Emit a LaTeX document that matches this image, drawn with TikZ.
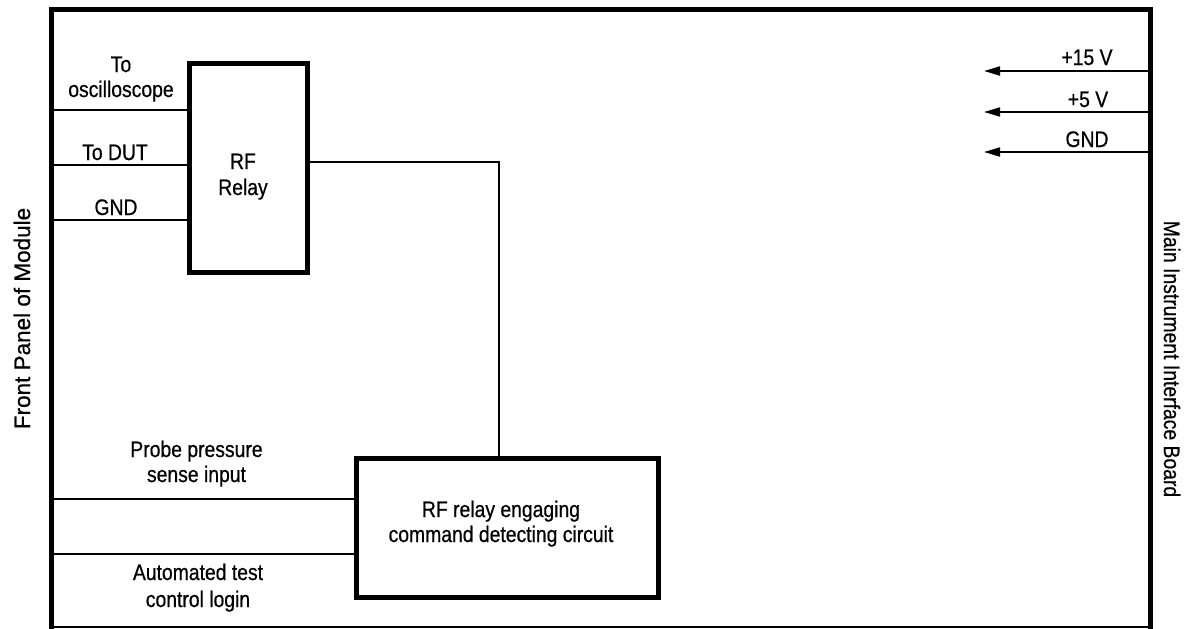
\documentclass[tikz,border=0pt]{standalone}
\usepackage{fontspec}
\setmainfont{Liberation Sans}[FakeStretch=0.86,FakeBold=0.6]
\newfontfamily\widesans{Liberation Sans}[FakeBold=0.6]
\usetikzlibrary{arrows.meta}
\begin{document}
\begin{tikzpicture}[x=1pt,y=-1pt,
  thickline/.style={line width=5pt},
  thinline/.style={line width=2pt},
  block/.style={draw,line width=5pt,inner sep=0pt,align=center},
  lbl/.style={inner sep=0pt,anchor=base,align=center,font=\fontsize{22.5}{26}\selectfont},
  pwr/.style={thinline,-{Triangle[length=16pt,width=9pt]}}]
\useasboundingbox (0,0) rectangle (1186,629);
% frame
\draw[thickline] (51,629) -- (51,9.5) -- (1150,9.5) -- (1150,629);
\draw[thinline] (51,627) -- (1148,627);
% blocks
\node[block,minimum width=118pt,minimum height=209pt] (relay) at (248,167.5) {};
\node[lbl] (relaytxt) at (243,195) {\fontsize{22.5}{28}\selectfont RF\\Relay};
\node[block,minimum width=302pt,minimum height=139pt] (circ) at (507,527.5) {};
\node[lbl,font=\fontsize{22.5}{25}\selectfont] (circtxt) at (501,542) {RF relay engaging\\command detecting circuit};
% frame points
\coordinate (fo) at (51,110);
\coordinate (fd) at (51,165);
\coordinate (fg) at (51,220);
\coordinate (fp) at (51,499);
\coordinate (fa) at (51,554);
\coordinate (bend) at (499,162);
\coordinate (r15) at (1150,71);
\coordinate (r5) at (1150,112);
\coordinate (rg) at (1150,152);
\coordinate (t15) at (984,71);
\coordinate (t5) at (984,112);
\coordinate (tg) at (984,152);
% connectors left
\draw[thinline] (fo) -- (fo -| relay.west);
\draw[thinline] (fd) -- (fd -| relay.west);
\draw[thinline] (fg) -- (fg -| relay.west);
\draw[thinline] (fp) -- (fp -| circ.west);
\draw[thinline] (fa) -- (fa -| circ.west);
\draw[thinline] (bend -| relay.east) -- (bend) -- (bend |- circ.north);
% power arrows
\draw[pwr] (r15) -- (t15);
\draw[pwr] (r5) -- (t5);
\draw[pwr] (rg) -- (tg);
% labels
\node[lbl,font=\fontsize{22.5}{25}\selectfont] (losc) at (121,97) {To\\oscilloscope};
\node[lbl] (ldut) at (115,160) {To DUT};
\node[lbl] (lgnd) at (116,215) {GND};
\node[lbl,font=\fontsize{22.5}{25}\selectfont] (lprobe) at (196.5,482) {Probe pressure\\sense input};
\node[lbl,font=\fontsize{22.5}{27}\selectfont] (lauto) at (198,607) {Automated test\\control login};
\node[lbl] (l15) at (1087,65) {+15 V};
\node[lbl] (l5) at (1088,107) {+5 V};
\node[lbl] (lrg) at (1087,147) {GND};
\node[inner sep=0pt,rotate=90,font=\widesans\fontsize{22.5}{26}\selectfont] (front) at (22,318.5) {Front Panel of Module};
\node[inner sep=0pt,rotate=-90,font=\fontsize{22.5}{26}\selectfont] (main) at (1172,359) {Main Instrument Interface Board};
\end{tikzpicture}
\end{document}
